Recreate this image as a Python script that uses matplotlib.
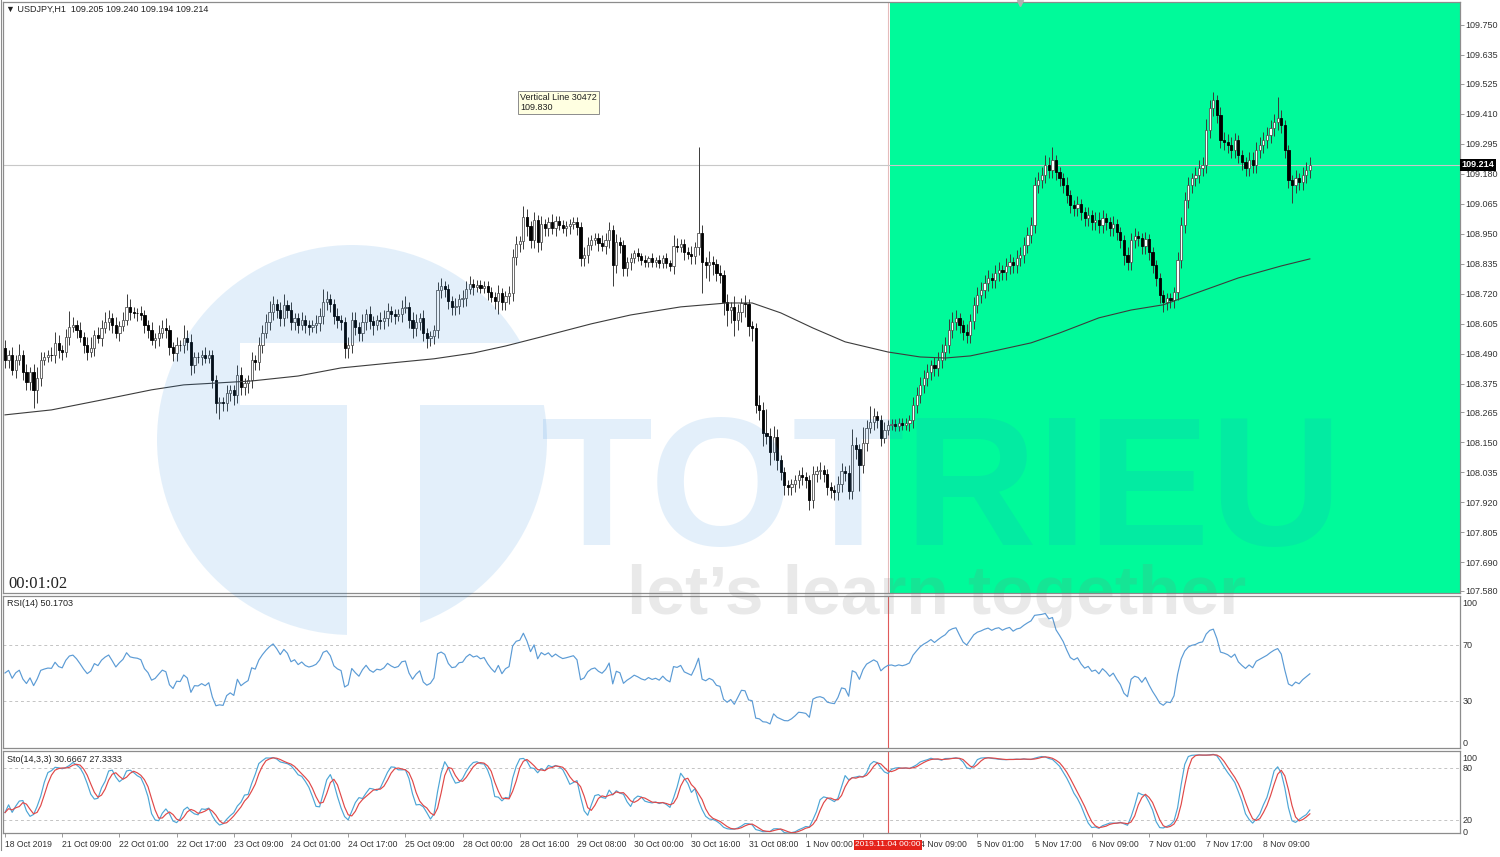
import numpy as np
import pandas as pd
import matplotlib
matplotlib.use('Agg')
import matplotlib.pyplot as plt
from matplotlib.patches import Rectangle, Circle
from matplotlib.lines import Line2D

# ---- data ----
first_open = 108.512
closes = [
    108.466, 108.485, 108.427, 108.466, 108.485, 108.419, 108.381, 108.419, 108.351, 108.397,
    108.466, 108.477, 108.485, 108.483, 108.531, 108.504, 108.496, 108.554, 108.592, 108.600,
    108.581, 108.554, 108.523, 108.496, 108.512, 108.561, 108.550, 108.588, 108.611, 108.627,
    108.600, 108.569, 108.596, 108.619, 108.669, 108.650, 108.646, 108.644, 108.638, 108.600,
    108.581, 108.542, 108.550, 108.569, 108.588, 108.581, 108.515, 108.492, 108.523, 108.521,
    108.550, 108.535, 108.447, 108.477, 108.475, 108.485, 108.473, 108.485, 108.389, 108.301,
    108.305, 108.299, 108.339, 108.351, 108.331, 108.408, 108.362, 108.377, 108.389, 108.466,
    108.458, 108.523, 108.569, 108.611, 108.650, 108.680, 108.657, 108.627, 108.677, 108.657,
    108.611, 108.627, 108.600, 108.619, 108.600, 108.592, 108.598, 108.608, 108.634, 108.688,
    108.700, 108.680, 108.634, 108.619, 108.611, 108.512, 108.523, 108.619, 108.592, 108.569,
    108.611, 108.642, 108.613, 108.600, 108.619, 108.615, 108.627, 108.654, 108.642, 108.634,
    108.640, 108.665, 108.669, 108.619, 108.588, 108.611, 108.627, 108.569, 108.550, 108.558,
    108.581, 108.734, 108.749, 108.738, 108.692, 108.669, 108.673, 108.700, 108.704, 108.738,
    108.757, 108.746, 108.753, 108.742, 108.749, 108.726, 108.707, 108.692, 108.723, 108.688,
    108.711, 108.721, 108.861, 108.910, 108.922, 109.014, 108.979, 108.926, 109.002, 108.918,
    108.987, 108.972, 108.995, 108.970, 108.998, 108.983, 108.972, 108.979, 108.987, 108.995,
    108.976, 108.857, 108.868, 108.907, 108.926, 108.933, 108.914, 108.903, 108.924, 108.964,
    108.830, 108.918, 108.907, 108.819, 108.841, 108.857, 108.876, 108.864, 108.849, 108.841,
    108.855, 108.843, 108.849, 108.838, 108.857, 108.837, 108.826, 108.903, 108.899, 108.910,
    108.880, 108.872, 108.864, 108.899, 108.953, 108.841, 108.830, 108.843, 108.832, 108.799,
    108.792, 108.688, 108.657, 108.669, 108.619, 108.650, 108.684, 108.680, 108.596, 108.588,
    108.293, 108.274, 108.186, 108.174, 108.113, 108.172, 108.082, 108.036, 107.986, 107.979,
    107.990, 108.006, 108.025, 108.017, 108.004, 107.929, 108.029, 108.040, 108.044, 108.029,
    107.979, 107.967, 107.960, 107.990, 108.040, 108.032, 107.963, 108.140, 108.125, 108.063,
    108.148, 108.205, 108.228, 108.251, 108.236, 108.167, 108.197, 108.217, 108.220, 108.213,
    108.222, 108.217, 108.224, 108.236, 108.293, 108.331, 108.370, 108.397, 108.419, 108.447,
    108.435, 108.466, 108.496, 108.523, 108.581, 108.611, 108.627, 108.600, 108.573, 108.561,
    108.613, 108.677, 108.715, 108.734, 108.761, 108.780, 108.772, 108.799, 108.811, 108.803,
    108.826, 108.841, 108.830, 108.857, 108.868, 108.907, 108.945, 108.983, 109.137, 109.156,
    109.175, 109.213, 109.194, 109.233, 109.186, 109.163, 109.137, 109.098, 109.060, 109.048,
    109.064, 109.033, 109.010, 109.021, 108.995, 109.002, 108.983, 109.010, 108.994, 108.972,
    108.987, 108.956, 108.926, 108.868, 108.841, 108.924, 108.941, 108.933, 108.903, 108.928,
    108.880, 108.830, 108.780, 108.715, 108.688, 108.703, 108.696, 108.726, 108.849, 108.983,
    109.079, 109.137, 109.163, 109.175, 109.202, 109.213, 109.348, 109.432, 109.463, 109.405,
    109.309, 109.301, 109.290, 109.271, 109.307, 109.252, 109.225, 109.202, 109.233, 109.213,
    109.271, 109.290, 109.309, 109.328, 109.355, 109.378, 109.394, 109.367, 109.271, 109.156,
    109.137, 109.163, 109.148, 109.175, 109.194, 109.214]

# wick lengths in pips above / below the body
up_wick = [
    3, 2, 3, 2, 4, 2, 3, 2, 3, 4, 3, 2, 2, 3, 4, 3, 2, 3, 6, 3,
    2, 3, 2, 3, 4, 2, 3, 3, 4, 3, 2, 3, 2, 3, 5, 3, 2, 2, 3, 2,
    2, 3, 2, 3, 3, 4, 2, 2, 3, 2, 5, 3, 3, 2, 2, 2, 3, 2, 2, 2,
    2, 2, 3, 2, 2, 4, 3, 2, 2, 3, 2, 3, 3, 3, 4, 3, 2, 3, 4, 2,
    3, 2, 2, 3, 2, 2, 2, 3, 3, 5, 3, 2, 2, 3, 2, 2, 3, 3, 3, 2,
    3, 2, 3, 2, 2, 3, 3, 3, 2, 2, 2, 3, 4, 2, 3, 3, 2, 3, 2, 2,
    2, 3, 3, 2, 2, 2, 3, 2, 3, 3, 3, 2, 2, 2, 2, 2, 2, 2, 3, 2,
    2, 3, 3, 3, 2, 4, 3, 2, 3, 2, 3, 2, 2, 3, 2, 2, 2, 2, 2, 2,
    2, 2, 3, 3, 2, 2, 2, 3, 3, 3, 2, 3, 2, 2, 2, 2, 1, 2, 1, 2,
    1, 2, 1, 2, 1, 2, 1, 4, 3, 2, 2, 2, 3, 2, 33, 3, 2, 4, 2, 2,
    3, 2, 3, 2, 4, 3, 2, 3, 2, 2, 2, 4, 3, 9, 3, 4, 3, 2, 2, 2,
    2, 2, 2, 3, 2, 2, 3, 2, 3, 2, 2, 2, 2, 3, 3, 2, 3, 6, 3, 2,
    6, 3, 6, 3, 2, 2, 3, 2, 2, 2, 2, 2, 2, 2, 3, 3, 3, 3, 3, 2,
    3, 3, 3, 3, 4, 4, 3, 2, 2, 3, 3, 3, 3, 3, 3, 3, 2, 3, 3, 2,
    3, 3, 2, 3, 3, 3, 3, 3, 3, 3, 3, 4, 3, 5, 2, 2, 2, 3, 2, 2,
    3, 2, 2, 3, 2, 3, 3, 3, 2, 2, 3, 2, 2, 2, 3, 3, 3, 2, 2, 3,
    2, 2, 2, 2, 2, 2, 2, 2, 3, 3, 3, 3, 2, 3, 3, 3, 4, 3, 3, 2,
    3, 3, 3, 3, 3, 2, 2, 2, 3, 3, 3, 3, 3, 3, 3, 3, 8, 3, 2, 2,
    2, 3, 2, 3, 3, 3]
dn_wick = [
    3, 3, 2, 3, 2, 3, 3, 3, 7, 5, 3, 2, 2, 2, 3, 3, 3, 2, 3, 2,
    3, 2, 3, 3, 2, 3, 2, 3, 2, 3, 3, 2, 3, 2, 2, 3, 2, 3, 2, 3,
    3, 2, 3, 3, 2, 3, 3, 3, 3, 2, 3, 3, 4, 3, 2, 3, 2, 2, 3, 4,
    6, 3, 3, 3, 4, 3, 3, 3, 4, 3, 3, 3, 3, 2, 3, 3, 3, 3, 3, 3,
    3, 3, 3, 2, 3, 3, 2, 3, 3, 3, 3, 3, 3, 3, 3, 4, 4, 3, 3, 3,
    3, 3, 3, 4, 2, 3, 3, 3, 3, 3, 2, 3, 2, 3, 4, 3, 3, 3, 4, 3,
    3, 3, 3, 3, 3, 3, 3, 3, 3, 3, 2, 3, 2, 2, 2, 3, 2, 3, 5, 3,
    3, 3, 3, 3, 3, 3, 4, 3, 3, 4, 3, 3, 3, 2, 3, 2, 2, 3, 3, 2,
    3, 3, 3, 3, 2, 2, 3, 2, 3, 3, 8, 3, 3, 3, 3, 3, 2, 2, 2, 2,
    2, 2, 2, 2, 2, 2, 2, 3, 2, 2, 3, 2, 3, 3, 3, 12, 5, 6, 4, 3,
    3, 5, 6, 5, 6, 4, 4, 5, 4, 5, 3, 4, 5, 3, 5, 3, 4, 3, 4, 3,
    3, 3, 3, 3, 3, 4, 3, 3, 3, 3, 3, 3, 3, 3, 3, 3, 3, 3, 4, 10,
    3, 3, 2, 3, 3, 3, 2, 2, 2, 2, 2, 2, 2, 3, 3, 3, 3, 3, 3, 3,
    3, 3, 3, 3, 3, 3, 3, 3, 3, 3, 3, 3, 3, 3, 3, 3, 3, 3, 3, 3,
    3, 3, 3, 3, 3, 3, 3, 3, 3, 3, 3, 3, 3, 3, 3, 3, 3, 3, 3, 3,
    3, 3, 3, 3, 3, 3, 3, 3, 3, 3, 3, 3, 3, 4, 3, 3, 3, 3, 3, 3,
    3, 3, 3, 3, 4, 3, 3, 3, 3, 3, 3, 3, 3, 3, 3, 3, 3, 3, 3, 3,
    3, 3, 3, 3, 3, 3, 3, 3, 3, 3, 3, 3, 3, 3, 3, 3, 3, 3, 3, 3,
    7, 3, 3, 3, 3, 3]

# moving average read at a few bars
ma_bars = [0, 13, 27, 41, 50, 59, 69, 82, 94, 108, 120, 131, 140, 150, 164, 175, 189,
           202, 209, 217, 226, 235, 247, 256, 263, 270, 278, 287, 295, 306, 315, 324,
           334, 345, 357, 365]
ma_vals = [108.255, 108.274, 108.312, 108.351, 108.370, 108.377, 108.385, 108.404, 108.435,
           108.454, 108.470, 108.492, 108.519, 108.554, 108.604, 108.638, 108.669, 108.684,
           108.684, 108.646, 108.588, 108.535, 108.496, 108.477, 108.473, 108.481, 108.504,
           108.531, 108.569, 108.627, 108.657, 108.677, 108.726, 108.780, 108.826, 108.853]

price_ticks = [109.750, 109.635, 109.525, 109.410, 109.295, 109.180, 109.065, 108.950,
               108.835, 108.720, 108.605, 108.490, 108.375, 108.265, 108.150, 108.035,
               107.920, 107.805, 107.690, 107.580]
bid = 109.214
vline_bar = 247
# the 1 Nov 16:00 label sits under the red date box, so it is left blank
time_labels = ['18 Oct 2019', '21 Oct 09:00', '22 Oct 01:00', '22 Oct 17:00', '23 Oct 09:00',
               '24 Oct 01:00', '24 Oct 17:00', '25 Oct 09:00', '28 Oct 00:00', '28 Oct 16:00',
               '29 Oct 08:00', '30 Oct 00:00', '30 Oct 16:00', '31 Oct 08:00', '1 Nov 00:00',
               '', '4 Nov 09:00', '5 Nov 01:00', '5 Nov 17:00', '6 Nov 09:00',
               '7 Nov 01:00', '7 Nov 17:00', '8 Nov 09:00']
label_step = 16

# ---- candles ----
c = np.array(closes)
o = np.r_[first_open, c[:-1]]
hi = np.maximum(o, c) + np.array(up_wick) * 0.01
lo = np.minimum(o, c) - np.array(dn_wick) * 0.01
x = np.arange(len(c))


def rsi(close, n=14):
    d = np.diff(close)
    gain = np.clip(d, 0, None)
    loss = np.clip(-d, 0, None)
    ag = al = np.abs(d[:n]).mean() / 2
    out = np.empty(len(close))
    out[0] = 50
    for i in range(len(d)):
        ag = (ag * (n - 1) + gain[i]) / n
        al = (al * (n - 1) + loss[i]) / n
        out[i + 1] = 100 - 100 / (1 + ag / al)
    return out


def stoch(h, l, cl, k=14, slow=3, d=3):
    hh = pd.Series(h).rolling(k, min_periods=1).max().values
    ll = pd.Series(l).rolling(k, min_periods=1).min().values
    num = pd.Series(cl - ll).rolling(slow, min_periods=1).sum()
    den = pd.Series(hh - ll).rolling(slow, min_periods=1).sum()
    K = 100 * num / den
    D = K.rolling(d, min_periods=1).mean()
    return K.values, D.values


rsi_v = rsi(c)
sto_k, sto_d = stoch(hi, lo, c)

W, H = 1500, 857
plt.rcParams['font.family'] = ['Liberation Sans', 'DejaVu Sans']
fig = plt.figure(figsize=(W / 100, H / 100), dpi=100)
fig.patch.set_facecolor('white')


def px_axes(x0, y0, x1, y1, **kw):
    return fig.add_axes([x0 / W, 1 - y1 / H, (x1 - x0) / W, (y1 - y0) / H], **kw)


ax = px_axes(3, 2, 1460, 593)
ax_rsi = px_axes(3, 596, 1460, 748)
ax_sto = px_axes(3, 751, 1460, 833)
xlim = (-0.56, 407)
frame = '#8c8c8c'
for a in (ax, ax_rsi, ax_sto):
    a.set_xlim(*xlim)
    for s in a.spines.values():
        s.set_color(frame)
        s.set_linewidth(0.9)
    a.yaxis.tick_right()
    a.tick_params(axis='y', length=3, width=0.6, color=frame, labelsize=6.5,
                  labelcolor='#333333', pad=0.8)
    a.tick_params(axis='x', bottom=False, labelbottom=False)

# main window
ax.set_ylim(107.572, 109.838)
ax.axvspan(vline_bar + 0.55, 420, color='#00FA9A', lw=0, zorder=0)
ax.axvline(vline_bar, color='#e6bcbc', lw=0.8, zorder=1)
ax.axhline(bid, color='#c8c8c8', lw=0.8, zorder=1)
ax.vlines(x, lo, hi, color='#3a3a3a', lw=0.7, zorder=2)
up = c >= o
ax.bar(x[up], (c - o)[up], bottom=o[up], width=0.62, color='white',
       edgecolor='#555555', lw=0.6, zorder=3)
ax.bar(x[~up], (o - c)[~up], bottom=c[~up], width=0.62, color='black',
       edgecolor='black', lw=0.6, zorder=3)
ax.plot(ma_bars, ma_vals, color='#3c3c3c', lw=0.8, zorder=4)
ax.set_yticks(price_ticks)
ax.set_yticklabels([f'{v:.3f}' for v in price_ticks])
ax.text(1.0012, bid, f'{bid:.3f}', transform=ax.get_yaxis_transform(), ha='left',
        va='center', color='white', fontsize=6.5, fontweight='bold', clip_on=False,
        bbox=dict(boxstyle='square,pad=0.15', fc='black', ec='none'), zorder=6)

# RSI window
ax_rsi.set_ylim(-3.6, 105)
for lv in (70, 30):
    ax_rsi.axhline(lv, color='#c4c4c4', lw=0.7, ls=(0, (3, 3)))
ax_rsi.axvline(vline_bar, color='#e05a5a', lw=0.8)
ax_rsi.plot(x, rsi_v, color='#5b9bd5', lw=0.85)
ax_rsi.set_yticks([100, 70, 30, 0])
ax_rsi.tick_params(axis='y', length=0, pad=2)

# Stochastic window
ax_sto.set_ylim(4.6, 99.7)
for lv in (80, 20):
    ax_sto.axhline(lv, color='#c4c4c4', lw=0.7, ls=(0, (3, 3)))
ax_sto.axvline(vline_bar, color='#e05a5a', lw=0.8)
ax_sto.plot(x, sto_k, color='#4da6d6', lw=0.85)
ax_sto.plot(x, sto_d, color='#e04848', lw=0.85)
ax_sto.set_yticks([92.5, 80, 20, 6.9])
ax_sto.set_yticklabels(['100', '80', '20', '0'])
ax_sto.tick_params(axis='y', length=0, pad=2)
ax_sto.set_xticks(np.arange(len(time_labels)) * label_step)
ax_sto.set_xticklabels(time_labels, ha='left')
ax_sto.tick_params(axis='x', bottom=True, labelbottom=True, length=3, width=0.6,
                   color=frame, labelsize=6.2, labelcolor='#333333', pad=2)

# texts
fig.text(6 / W, 1 - 9 / H, '\u25bc USDJPY,H1  109.205 109.240 109.194 109.214',
         fontsize=6.5, va='center', color='#222222')
fig.text(7 / W, 1 - 604 / H, 'RSI(14) 50.1703', fontsize=6.5, va='center', color='#222222')
fig.text(7 / W, 1 - 759 / H, 'Sto(14,3,3) 30.6667 27.3333', fontsize=6.5, va='center',
         color='#222222')
fig.text(8 / W, 1 - 588 / H, '00:01:02', fontsize=12, va='baseline', color='#222222',
         family=['Liberation Serif', 'DejaVu Serif'])
fig.text(520 / W, 1 - 93 / H, 'Vertical Line 30472\n109.830', fontsize=6.5, va='top',
         ha='left', color='#222222', linespacing=1.1,
         bbox=dict(boxstyle='square,pad=0.25', fc='#ffffe1', ec='#8c8c8c', lw=0.7))
fig.text(888 / W, 1 - 845 / H, '2019.11.04 00:00', fontsize=6.0, ha='center', va='center',
         color='white', bbox=dict(boxstyle='square,pad=0.15', fc='#e5231b', ec='none'))
# outer left border of the terminal window
fig.add_artist(Line2D([0.6 / W, 0.6 / W], [1 - 850 / H, 1], color=frame, lw=0.8))

# watermark overlay
ov = fig.add_axes([0, 0, 1, 1], zorder=10)
ov.set_xlim(0, W)
ov.set_ylim(H, 0)
ov.axis('off')
ov.patch.set_alpha(0)
blue = '#1e82dc'
circ = Circle((352, 440), 195, transform=ov.transData)
for rx0, ry0, rx1, ry1 in [(157, 240, 547, 343), (157, 343, 240, 640),
                           (240, 405, 347, 640), (420, 405, 547, 640)]:
    r = Rectangle((rx0, ry0), rx1 - rx0, ry1 - ry0, fc=blue, ec='none', alpha=0.12)
    ov.add_patch(r)
    r.set_clip_path(circ)
ov.text(942, 545, 'TOTRIEU', ha='center', va='baseline', fontsize=132, fontweight='bold',
        family=['Liberation Sans Narrow', 'Liberation Sans'], color=blue, alpha=0.12)
ov.text(937, 614, 'let\u2019s learn together', ha='center', va='baseline', fontsize=50,
        fontweight='bold', family=['Liberation Sans Narrow', 'Liberation Sans'],
        color='#7f7f7f', alpha=0.17)
ov.plot([1020], [3], marker='v', ms=4, color='#b0b0b0')

fig.savefig('out.png', dpi=100)
